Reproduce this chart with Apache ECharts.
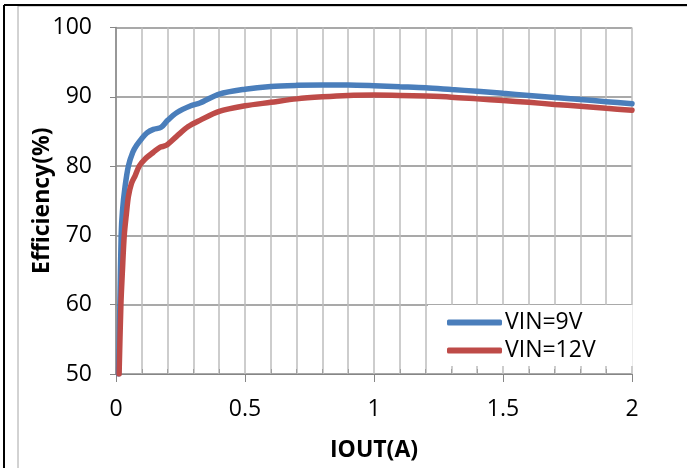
<!DOCTYPE html>
<html>
<head>
<meta charset="utf-8">
<script src="https://cdn.jsdelivr.net/npm/echarts@6/dist/echarts.min.js"></script>
<style>
  html, body { margin: 0; padding: 0; background: #fff; }
  #main { width: 687px; height: 468px; }
</style>
</head>
<body>
<div id="main"></div>
<script>
// output current (A) and efficiency (%)
var iout9 = [0.01, 0.015, 0.02, 0.025, 0.035, 0.048, 0.065, 0.08, 0.1, 0.12, 0.145, 0.175, 0.2, 0.235, 0.29, 0.325, 0.4, 0.5, 0.6, 0.7, 0.8, 0.9, 1.0, 1.1, 1.2, 1.3, 1.4, 1.5, 1.6, 1.7, 1.8, 1.9, 2.0];
var eff9  = [50, 60, 70, 73.5, 77, 80, 82, 83, 84, 84.8, 85.3, 85.6, 86.6, 87.7, 88.7, 89.1, 90.4, 91.1, 91.5, 91.65, 91.7, 91.7, 91.6, 91.45, 91.3, 91.05, 90.8, 90.5, 90.2, 89.9, 89.6, 89.3, 89.0];

var iout12 = [0.012, 0.019, 0.025, 0.032, 0.04, 0.048, 0.06, 0.074, 0.09, 0.112, 0.145, 0.17, 0.195, 0.235, 0.28, 0.325, 0.4, 0.5, 0.6, 0.7, 0.8, 0.9, 1.0, 1.1, 1.2, 1.3, 1.4, 1.5, 1.6, 1.7, 1.8, 1.9, 2.0];
var eff12  = [50, 60, 65, 70, 73, 75.6, 77.5, 78.6, 80, 81, 82, 82.7, 83, 84.3, 85.7, 86.6, 87.9, 88.7, 89.2, 89.7, 90.0, 90.2, 90.25, 90.2, 90.1, 89.95, 89.7, 89.45, 89.2, 88.9, 88.65, 88.35, 88.05];

var seriesNames = ['VIN=9V', 'VIN=12V'];
var yTicks = [50, 60, 70, 80, 90, 100];

function pairs(xs, ys) {
    return xs.map(function (x, i) { return [x, ys[i]]; });
}

var font = 'Open Sans';
var chart = echarts.init(document.getElementById('main'));

var option = {
    backgroundColor: '#fff',
    animation: false,
    graphic: [
        { type: 'rect', shape: { x: 18, y: 6, width: 720, height: 500 },
          style: { fill: 'none', stroke: '#a6a6a6', lineWidth: 1 }, silent: true },
        { type: 'line', shape: { x1: 4, y1: 5, x2: 687, y2: 5 },
          style: { stroke: '#000', lineWidth: 2 }, silent: true },
        { type: 'line', shape: { x1: 4, y1: 5, x2: 4, y2: 468 },
          style: { stroke: '#000', lineWidth: 2 }, silent: true }
    ],
    grid: { left: 116, right: 55, top: 27.5, bottom: 94 },
    legend: {
        data: seriesNames,
        orient: 'vertical',
        left: 428,
        top: 305,
        padding: [6, 37, 4, 19],
        backgroundColor: '#fff',
        itemWidth: 55,
        itemHeight: 6,
        itemGap: 5,
        icon: 'roundRect',
        textStyle: { fontFamily: font, fontSize: 23, color: '#000', padding: [0, 0, 0, -2] }
    },
    xAxis: {
        type: 'value',
        min: 0,
        max: 2,
        interval: 0.5,
        name: 'IOUT(A)',
        nameLocation: 'middle',
        nameGap: 65,
        nameMoveOverlap: false,
        nameTextStyle: { fontFamily: font, fontSize: 23, fontWeight: 'bold', color: '#000' },
        axisLine: { lineStyle: { color: '#868686', width: 1 } },
        axisTick: { show: true, length: 8, lineStyle: { color: '#868686' } },
        minorTick: { show: true, splitNumber: 5, length: -5, lineStyle: { color: '#a0a0a0' } },
        axisLabel: { fontFamily: font, fontSize: 23, color: '#000', margin: 24 },
        splitLine: { show: true, lineStyle: { color: '#bdbdbd', width: 1.5 } },
        minorSplitLine: { show: true, lineStyle: { color: '#bdbdbd', width: 1.5 } }
    },
    yAxis: {
        type: 'value',
        min: yTicks[0],
        max: yTicks[yTicks.length - 1],
        interval: 10,
        name: 'Efficiency(%)',
        nameLocation: 'middle',
        nameGap: 62,
        nameMoveOverlap: false,
        nameTextStyle: { fontFamily: font, fontSize: 23, fontWeight: 'bold', color: '#000' },
        axisLine: { show: true, lineStyle: { color: '#868686', width: 1.5 } },
        axisTick: { show: true, length: 6, lineStyle: { color: '#868686' } },
        axisLabel: { fontFamily: font, fontSize: 23, color: '#000', margin: 24 },
        splitLine: { show: true, lineStyle: { color: '#8c8c8c', width: 1.5 } }
    },
    series: [
        {
            name: seriesNames[0],
            type: 'line',
            data: pairs(iout9, eff9),
            showSymbol: false,
            smooth: 0.3,
            color: '#4a7ebb',
            lineStyle: { width: 5.5, color: '#4a7ebb', cap: 'round' }
        },
        {
            name: seriesNames[1],
            type: 'line',
            data: pairs(iout12, eff12),
            showSymbol: false,
            smooth: 0.3,
            color: '#be4b48',
            lineStyle: { width: 5.5, color: '#be4b48', cap: 'round' }
        }
    ]
};
chart.setOption(option);
</script>
</body>
</html>
